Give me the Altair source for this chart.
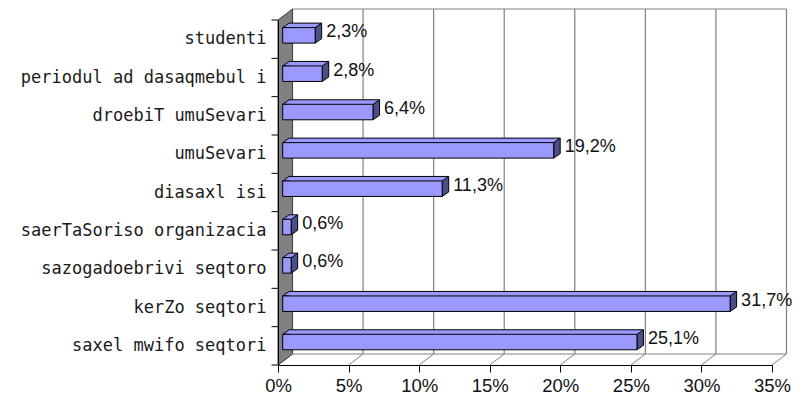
import altair as alt
import pandas as pd

# ---- data ----
categories = [
    "studenti",
    "periodul ad dasaqmebul i",
    "droebiT umuSevari",
    "umuSevari",
    "diasaxl isi",
    "saerTaSoriso organizacia",
    "sazogadoebrivi seqtoro",
    "kerZo seqtori",
    "saxel mwifo seqtori",
]
values = [2.3, 2.8, 6.4, 19.2, 11.3, 0.6, 0.6, 31.7, 25.1]
value_labels = ["2,3%", "2,8%", "6,4%", "19,2%", "11,3%", "0,6%", "0,6%", "31,7%", "25,1%"]
x_ticks = [0, 5, 10, 15, 20, 25, 30, 35]

# ---- style / geometry constants (pixels) ----
W, H = 494, 345
DX, DY = 14.5, 11
BX, BY = 4.7, -3.8
BH = 15.5
BDX, BDY = 6.5, 4.5
FRONT = "#9999FF"
TOP = "#9999FF"
SIDE = "#4D4D88"
GRID = "#808080"
WALL = "#808080"
NUM_FONT = "Liberation Sans"
CAT_FONT = "DejaVu Sans Mono"

df = pd.DataFrame({"cat": categories, "v": values, "label": value_labels, "z": [0] * len(values)})
ticks_df = pd.DataFrame({"t": x_ticks})
one = pd.DataFrame({"a": [1]})

x_scale = alt.Scale(domain=[0, 35], nice=False, zero=True)
y_scale = alt.Scale(paddingInner=0, paddingOuter=0)

X_AXIS = alt.Axis(
    values=x_ticks, labelExpr="datum.value + '%'", title=None, grid=False,
    tickSize=7, tickColor="black", domainColor="black", labelFlush=False,
    labelFont=NUM_FONT, labelFontSize=18.5, labelColor="#111111",
    labelPadding=4, zindex=1,
)
Y_AXIS = alt.Axis(
    title=None, ticks=False, domainColor="black",
    labelFont=CAT_FONT, labelFontSize=17, labelColor="#1a1a1a",
    labelPadding=12, labelLimit=0, zindex=1,
)


def X(field):
    return alt.X(field, scale=x_scale, axis=X_AXIS)


Y = alt.Y("cat:N", sort=categories, scale=y_scale, axis=Y_AXIS)

# back plane
back = alt.Chart(one).mark_rect(fill="white", stroke=GRID, strokeWidth=1).encode(
    x=alt.value(DX), x2=alt.value(W + DX), y=alt.value(-DY), y2=alt.value(H - DY)
)
# back grid lines
grid = alt.Chart(ticks_df).mark_rule(color=GRID, strokeWidth=1.2, xOffset=DX).encode(
    x=X("t:Q"), y=alt.value(-DY), y2=alt.value(H - DY)
)
# floor diagonals
floor = alt.Chart(ticks_df).mark_point(
    shape=f"M0,0L{DX},{-DY}", size=4, filled=False, stroke=GRID, strokeWidth=1, opacity=1
).encode(x=X("t:Q"), y=alt.value(H))
# left wall
wall = alt.Chart(one).mark_point(
    shape=f"M0,0L{DX},{-DY}L{DX},{H - DY}L0,{H}Z",
    size=4, filled=True, fill=WALL, stroke="#404040", strokeWidth=1, opacity=1,
).encode(x=alt.value(0), y=alt.value(0))

base = alt.Chart(df)
yticks = base.mark_rule(color="black", strokeWidth=1).encode(
    y=alt.Y("cat:N", sort=categories, scale=y_scale, bandPosition=0, axis=Y_AXIS),
    x=alt.value(-6.5),
    x2=alt.value(0),
)
bottom_tick = alt.Chart(one).mark_rule(color="black", strokeWidth=1).encode(
    x=alt.value(-6.5), x2=alt.value(0), y=alt.value(H)
)

top_rect = base.mark_bar(
    fill=TOP, strokeWidth=0, size=BDY,
    xOffset=BX + BDX, x2Offset=BX + BDX, yOffset=BY - BH / 2 - BDY / 2,
).encode(x=X("v:Q"), y=Y)

top_edge = base.mark_rule(
    color="black", strokeWidth=1,
    xOffset=BX + BDX, x2Offset=BX + BDX, yOffset=BY - BH / 2 - BDY,
).encode(x=X("v:Q"), x2="z:Q", y=Y)

left_tri = base.mark_point(
    shape=f"M{BDX},0L0,0L{BDX},{-BDY}", size=4, filled=True, fill=TOP,
    stroke="black", strokeWidth=1, opacity=1, xOffset=BX, yOffset=BY - BH / 2,
).encode(x=X("z:Q"), y=Y)

side = base.mark_point(
    shape=f"M0,0L{BDX},{-BDY}L{BDX},{BH - BDY}L0,{BH}Z", size=4, filled=True,
    fill=SIDE, stroke="black", strokeWidth=1, opacity=1, xOffset=BX, yOffset=BY - BH / 2,
).encode(x=X("v:Q"), y=Y)

front = base.mark_bar(
    fill=FRONT, stroke="black", strokeWidth=1, size=BH,
    xOffset=BX, x2Offset=BX, yOffset=BY,
).encode(x=X("v:Q"), y=Y)

labels = base.mark_text(
    align="left", baseline="middle", dx=BX + 11, dy=BY - 3,
    font=NUM_FONT, fontSize=18, color="#111111",
).encode(x=X("v:Q"), y=Y, text="label:N")

chart = alt.layer(
    back, grid, floor, wall, yticks, bottom_tick,
    top_rect, top_edge, left_tri, side, front, labels,
).properties(
    width=W, height=H,
    autosize=alt.AutoSizeParams(type="none"),
    padding={"left": 270, "top": 12, "right": 21, "bottom": 32},
    background="white",
).configure_view(stroke=None)

chart.save("out.html", embed_options={"renderer": "svg", "actions": False})
